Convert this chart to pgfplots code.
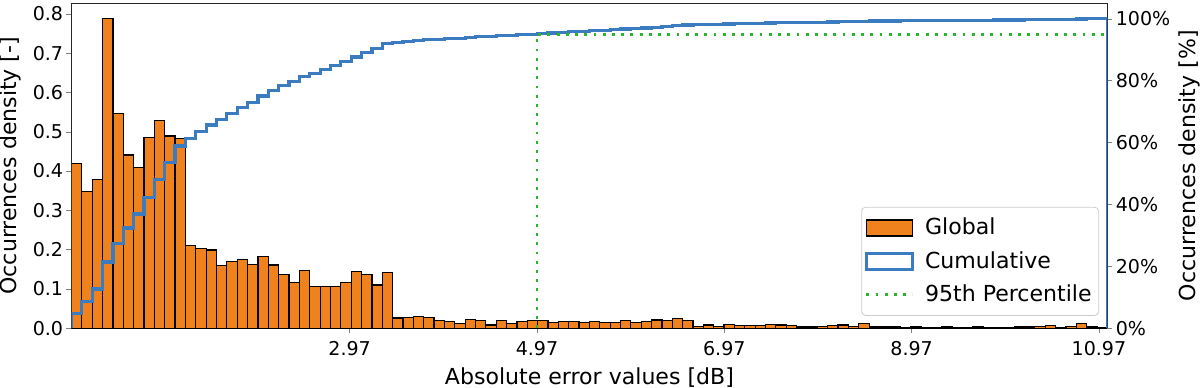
\documentclass[border=0pt]{standalone}
\usepackage{fontspec}
\setmainfont{DejaVu Sans}
\usepackage{pgfplots}
\usepackage{pgfplotstable}
\pgfplotsset{compat=1.18}
\definecolor{barorange}{HTML}{F0821E}
\definecolor{cumblue}{HTML}{3B7BBF}
\definecolor{pctgreen}{HTML}{2DB52D}

% histogram: left bin edge, density (last row closes the interval)
\pgfplotstableread{
x y
0 0.420
0.1106 0.347
0.2212 0.378
0.3318 0.788
0.4424 0.547
0.553 0.441
0.6636 0.408
0.7742 0.486
0.8848 0.528
0.9954 0.489
1.106 0.482
1.2166 0.210
1.3272 0.203
1.4378 0.199
1.5484 0.160
1.659 0.170
1.7696 0.174
1.8802 0.162
1.9908 0.182
2.1014 0.161
2.212 0.137
2.3226 0.117
2.4332 0.147
2.5438 0.106
2.6544 0.106
2.765 0.106
2.8756 0.116
2.9862 0.145
3.0968 0.136
3.2074 0.110
3.318 0.142
3.4286 0.026
3.5392 0.028
3.6498 0.030
3.7604 0.027
3.871 0.019
3.9816 0.018
4.0922 0.012
4.2028 0.022
4.3134 0.019
4.424 0.008
4.5346 0.020
4.6452 0.012
4.7558 0.017
4.8664 0.019
4.977 0.019
5.0876 0.015
5.1982 0.017
5.3088 0.017
5.4194 0.014
5.53 0.017
5.6406 0.015
5.7512 0.015
5.8618 0.019
5.9724 0.014
6.083 0.017
6.1936 0.021
6.3042 0.020
6.4148 0.025
6.5254 0.020
6.636 0.005
6.7466 0.008
6.8572 0.005
6.9678 0.010
7.0784 0.006
7.189 0.006
7.2996 0.007
7.4102 0.010
7.5208 0.008
7.6314 0.006
7.742 0.003
7.8526 0.003
7.9632 0.004
8.0738 0.007
8.1844 0.008
8.295 0.005
8.4056 0.011
8.5162 0.003
8.6268 0.003
8.7374 0.003
8.848 0.002
8.9586 0.003
9.0692 0.002
9.1798 0.002
9.2904 0.003
9.401 0.002
9.5116 0.002
9.6222 0.003
9.7328 0.002
9.8434 0.002
9.954 0.002
10.0646 0.003
10.1752 0.003
10.2858 0.004
10.3964 0.007
10.507 0.002
10.6176 0.004
10.7282 0.011
10.8388 0.003
10.9494 0.002
11.06 0
}\histdata

% cumulative share in percent, step level starting at each bin's left edge
\pgfplotstableread{
x c
0 0
0 4.65
0.1106 8.50
0.2212 12.68
0.3318 21.41
0.4424 27.47
0.553 32.35
0.6636 36.87
0.7742 42.26
0.8848 48.11
0.9954 53.52
1.106 58.86
1.2166 61.19
1.3272 63.44
1.4378 65.64
1.5484 67.41
1.659 69.30
1.7696 71.22
1.8802 73.02
1.9908 75.03
2.1014 76.82
2.212 78.33
2.3226 79.63
2.4332 81.26
2.5438 82.43
2.6544 83.61
2.765 84.78
2.8756 86.07
2.9862 87.67
3.0968 89.18
3.2074 90.40
3.318 91.97
3.4286 92.26
3.5392 92.57
3.6498 92.90
3.7604 93.20
3.871 93.41
3.9816 93.61
4.0922 93.74
4.2028 93.99
4.3134 94.20
4.424 94.28
4.5346 94.51
4.6452 94.64
4.7558 94.83
4.8664 95.04
4.977 95.25
5.0876 95.41
5.1982 95.60
5.3088 95.79
5.4194 95.95
5.53 96.13
5.6406 96.30
5.7512 96.47
5.8618 96.68
5.9724 96.83
6.083 97.02
6.1936 97.25
6.3042 97.47
6.4148 97.75
6.5254 97.97
6.636 98.03
6.7466 98.12
6.8572 98.17
6.9678 98.28
7.0784 98.35
7.189 98.42
7.2996 98.49
7.4102 98.60
7.5208 98.69
7.6314 98.76
7.742 98.79
7.8526 98.83
7.9632 98.87
8.0738 98.95
8.1844 99.04
8.295 99.09
8.4056 99.21
8.5162 99.25
8.6268 99.28
8.7374 99.31
8.848 99.34
8.9586 99.37
9.0692 99.39
9.1798 99.41
9.2904 99.45
9.401 99.47
9.5116 99.49
9.6222 99.52
9.7328 99.55
9.8434 99.57
9.954 99.59
10.0646 99.62
10.1752 99.66
10.2858 99.70
10.3964 99.78
10.507 99.80
10.6176 99.85
10.7282 99.94
10.8388 99.98
10.9494 100
11.06 100
11.06 0
}\cumdata

\pgfplotsset{
  common/.style={
    scale only axis, width=516.5pt, height=162pt,
    xmin=0, xmax=11.06, ymin=0,
    tick align=outside, major tick length=2.5pt,
    /pgf/number format/assume math mode=true,
    tick label style={font=\fontsize{9.5}{11}\selectfont},
    label style={font=\fontsize{11}{13}\selectfont, inner sep=0pt},
    yticklabel style={inner xsep=1.5pt},
    axis line style={black!85},
  }
}

\begin{document}
\begin{tikzpicture}
\begin{axis}[
    common,
    ymax=0.827,
    xtick pos=bottom, ytick pos=left,
    xtick={2.97,4.97,6.97,8.97,10.97},
    xticklabels={2.97,4.97,6.97,8.97,10.97},
    xticklabel style={yshift=-0.6pt},
    ytick={0,0.1,0.2,0.3,0.4,0.5,0.6,0.7,0.8},
    yticklabel style={/pgf/number format/.cd, fixed, fixed zerofill, precision=1},
    xlabel={Absolute error values [dB]},
    ylabel={Occurrences density [-]},
    xlabel shift=2.5pt,
    ylabel shift=4pt,
]
\addplot[ybar interval, fill=barorange, draw=black, line width=0.6pt] table[x=x, y=y] {\histdata};
\end{axis}
\begin{axis}[
    common,
    ymax=105,
    axis x line=none,
    axis y line*=right,
    ytick={0,20,40,60,80,100},
    yticklabel={\pgfmathprintnumber{\tick}\%},
    ylabel={Occurrences density [\%]},
    ylabel shift=2.5pt,
    legend style={at={(0.992,0.038)}, anchor=south east,
      draw=black!20, rounded corners=2pt, fill=white, fill opacity=0.8, text opacity=1,
      font=\fontsize{11}{13}\selectfont, cells={anchor=west},
      inner xsep=1.5pt, inner ysep=3.5pt, row sep=2.7pt,
      /tikz/every odd column/.append style={column sep=3.5pt}},
]
\addlegendimage{legend image code/.code={\draw[sharp corners, fill opacity=1, fill=barorange, draw=black, line width=0.7pt] (0pt,-4pt) rectangle (23pt,4pt);}}
\addlegendentry{Global}
\addplot[cumblue, line width=1.6pt, const plot mark left,
  legend image code/.code={\draw[sharp corners, cumblue, line width=1.6pt] (0pt,-4pt) rectangle (23pt,4pt);}]
  table[x=x, y=c] {\cumdata};
\addlegendentry{Cumulative}
\addplot[pctgreen, line width=1.4pt, dash pattern=on 1.4pt off 3.2pt,
  legend image code/.code={\draw[pctgreen, line width=1.4pt, dash pattern=on 1.4pt off 3.2pt] (0pt,0pt) -- (23pt,0pt);}]
  coordinates {(4.97,0) (4.97,95) (11.06,95)};
\addlegendentry{95th Percentile}
\end{axis}
\end{tikzpicture}
\end{document}
